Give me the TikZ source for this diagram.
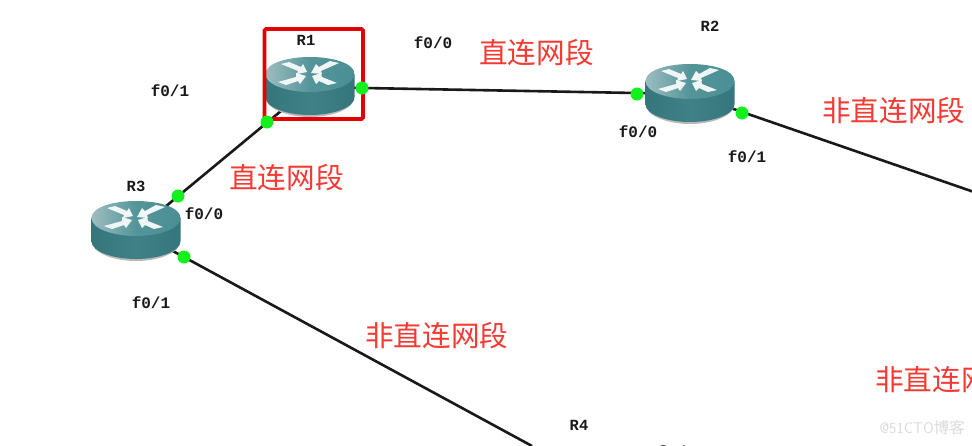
\documentclass[tikz,border=0pt]{standalone}
\usepackage{fontspec}
\newfontfamily\cjkfont{Noto Sans CJK SC}
\newfontfamily\portfont{Liberation Mono}
\usetikzlibrary{calc}
\definecolor{labelred}{HTML}{F53A33}
\definecolor{portgreen}{HTML}{14F01E}
\definecolor{tealmid}{HTML}{3F8187}
\definecolor{tealdark}{HTML}{35767C}
\definecolor{teallight}{HTML}{9DBDC0}
\definecolor{tealtop}{HTML}{4A8F94}
\tikzset{
  x=1pt,y=-1pt,
  routerbox/.style={minimum width=89pt,minimum height=60pt,inner sep=0pt,outer sep=0pt},
  link/.style={draw=black!90,line width=2.6pt},
  portdot/.style={circle,fill=portgreen,draw=none,minimum size=13pt,inner sep=0pt},
  portlabel/.style={font=\portfont\bfseries\fontsize{16}{16}\selectfont,inner sep=0pt,text=black!90},
  routerlabel/.style={font=\portfont\bfseries\fontsize{15.5}{16}\selectfont,inner sep=0pt,text=black!90},
  netlabel/.style={font=\cjkfont\fontsize{28.6}{30}\selectfont,inner sep=0pt,text=labelred,anchor=west},
  markbox/.style={draw=red!90!black,line width=3.6pt,rounded corners=1.5pt},
  wmark/.style={font=\sffamily\fontsize{15.5}{16}\selectfont,text=black!14,inner sep=0pt},
  pics/routerpic/.style={code={
    % grey rim under the body
    \fill[black!28] (-44.5,10) .. controls (-44.5,22) and (-22,30) .. (0,30)
      .. controls (22,30) and (44.5,22) .. (44.5,10) -- cycle;
    % body
    \path[left color=tealdark,right color=tealdark,middle color=tealmid]
      (-44.5,-13) -- (-44.5,10) .. controls (-44.5,21) and (-22,28) .. (0,28)
      .. controls (22,28) and (44.5,21) .. (44.5,10) -- (44.5,-13) -- cycle;
    % top
    \path[left color=teallight,right color=tealtop,middle color=tealtop!88!teallight]
      (-44.5,-13) .. controls (-44.5,-24) and (-22,-30) .. (0,-30)
      .. controls (22,-30) and (44.5,-24) .. (44.5,-13)
      .. controls (44.5,-2) and (22,5) .. (0,5)
      .. controls (-22,5) and (-44.5,-2) .. (-44.5,-13) -- cycle;
    % the four arrows of the router icon
    \fill[white!92!tealtop] (-29,-23) -- (-21,-25) -- (-9,-20) -- (-7,-23) -- (-3,-15) -- (-13,-13) -- (-12,-16) -- cycle;
    \fill[white!92!tealtop] (29,-24) -- (20,-26) -- (9,-20) -- (6,-23) -- (1,-14) -- (12,-13) -- (11,-16) -- cycle;
    \fill[white!92!tealtop] (-32,-5) -- (-24,-2) -- (-12,-6) -- (-10,-3) -- (-4,-11) -- (-14,-14) -- (-14,-10) -- cycle;
    \fill[white!92!tealtop] (27,-4) -- (18,-2) -- (9,-6) -- (6,-3) -- (2,-11) -- (11,-14) -- (12,-10) -- cycle;
  }}
}
\begin{document}
\begin{tikzpicture}
\useasboundingbox (0,0) rectangle (972,445);
\clip (0,0) rectangle (972,445);
\fill[white] (0,0) rectangle (972,445);

\node[routerbox] (R1) at (310,87) {};
\node[routerbox] (R2) at (690,94) {};
\node[routerbox] (R3) at (136,231) {};
\coordinate (R4) at (532,446);
\coordinate (R5) at (974,192);

\draw[link] (R3.center) -- (R1.center);
\draw[link] (R1.center) -- (R2.center);
\draw[link] (R2.center) -- (R5);
\draw[link] (R3.center) -- (R4);

\pic at (R1.center) {routerpic};
\pic at (R2.center) {routerpic};
\pic at (R3.center) {routerpic};

\draw[markbox] (264.5,29) rectangle (363,119);

\node[portdot] (d1) at (362,88) {};
\node[portdot] (d2) at (267,122) {};
\node[portdot] (d3) at (637,94) {};
\node[portdot] (d4) at (742,113) {};
\node[portdot] (d5) at (178,196) {};
\node[portdot] (d6) at (184,257) {};

\node[routerlabel] (n1) at (306,40) {R1};
\node[routerlabel] (n2) at (710,26) {R2};
\node[routerlabel] (n3) at (136,186) {R3};
\node[routerlabel] (n4) at (579,425) {R4};

\node[portlabel] (p1) at (170,91) {f0/1};
\node[portlabel] (p2) at (433,43) {f0/0};
\node[portlabel] (p3) at (638,132) {f0/0};
\node[portlabel] (p4) at (747,157) {f0/1};
\node[portlabel] (p5) at (204,214) {f0/0};
\node[portlabel] (p6) at (151,303) {f0/1};
\node[portlabel] (p7) at (676,452) {f0/0};

\node[netlabel] (t1) at (479,53) {直连网段};
\node[netlabel] (t2) at (229,178) {直连网段};
\node[netlabel] (t3) at (822,111) {非直连网段};
\node[netlabel] (t4) at (365,336) {非直连网段};
\node[netlabel] (t5) at (875,380) {非直连网段};

\node[wmark,anchor=east] (w) at (965,428) {@51CTO{\cjkfont 博客}};
\end{tikzpicture}
\end{document}
